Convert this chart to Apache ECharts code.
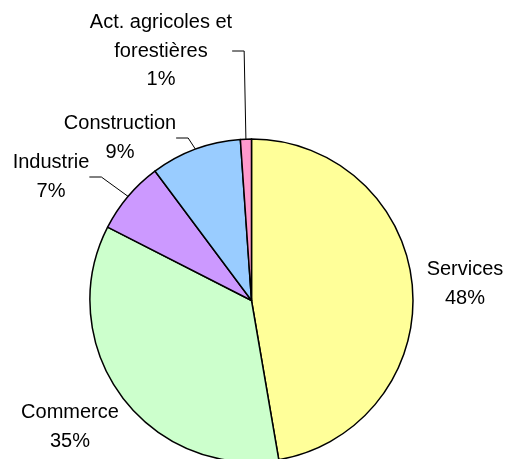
<!DOCTYPE html>
<html>
<head>
<meta charset="utf-8">
<script src="https://cdn.jsdelivr.net/npm/echarts@6/dist/echarts.min.js"></script>
<style>
html,body{margin:0;padding:0;background:#fff;}
#main{width:509px;height:459px;}
</style>
</head>
<body>
<div id="main"></div>
<script>
// secteurs d'activité
var categories = ['Services', 'Commerce', 'Industrie', 'Construction', 'Act. agricoles et\nforestières'];
var values = [47.3, 35.2, 7.3, 9.1, 1.1];
var percentLabels = ['48%', '35%', '7%', '9%', '1%'];
var colors = ['#FFFF99', '#CCFFCC', '#CC99FF', '#99CCFF', '#FF99CC'];
var hasLine = [false, false, true, true, true];

// label block centres (layout only)
var labelPos = [[465, 284], [70, 427], [51, 177], [120, 138], [161, 51]];

var chart = echarts.init(document.getElementById('main'));

var pieData = [];
for (var a = 0; a < categories.length; a++) {
    pieData.push({
        name: categories[a],
        value: values[a],
        itemStyle: {color: colors[a]},
        labelLine: {show: hasLine[a]}
    });
}

var option = {
    animation: false,
    backgroundColor: '#fff',
    series: [{
        type: 'pie',
        center: [251.5, 300.5],
        radius: 161.5,
        startAngle: 90,
        clockwise: true,
        data: pieData,
        itemStyle: {borderColor: '#000', borderWidth: 1.5},
        label: {
            show: true,
            position: 'outside',
            overflow: 'none',
            color: '#000',
            fontFamily: 'Liberation Sans, Arial, sans-serif',
            fontSize: 20,
            lineHeight: 28.5,
            align: 'center',
            formatter: function (p) {
                return p.name + '\n' + percentLabels[p.dataIndex];
            }
        },
        labelLine: {
            lineStyle: {color: '#000', width: 1},
            length: 10,
            length2: 12,
            smooth: false
        },
        labelLayout: function (params) {
            var pos = labelPos[params.dataIndex];
            return {
                x: pos[0],
                y: pos[1],
                align: 'center',
                verticalAlign: 'middle'
            };
        },
        emphasis: {disabled: true}
    }]
};
chart.setOption(option);
</script>
</body>
</html>
